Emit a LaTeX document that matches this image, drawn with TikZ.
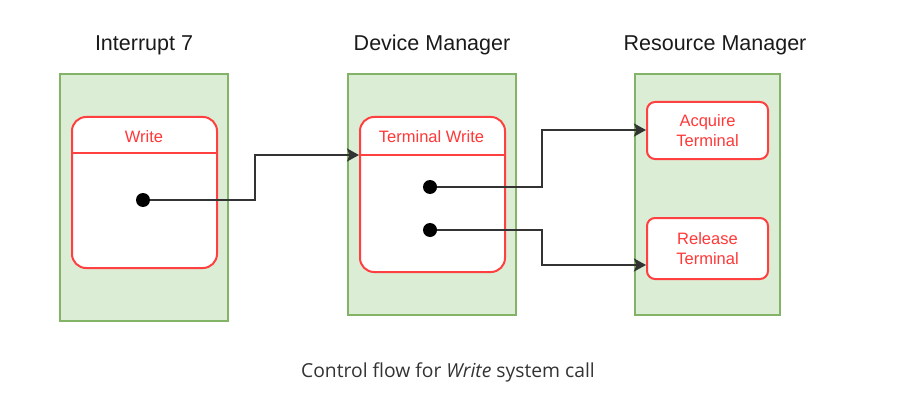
\documentclass[tikz,border=0pt]{standalone}
\usepackage{fontspec}
\setmainfont{Liberation Sans}
\newfontfamily\capfont{Open Sans}
\usetikzlibrary{arrows.meta,calc}
\pgfdeclarelayer{front}
\pgfsetlayers{main,front}
\definecolor{grfill}{HTML}{DCEDD5}
\definecolor{grline}{HTML}{82B366}
\definecolor{rdline}{HTML}{FF4040}
\definecolor{rdtext}{HTML}{FF3838}
\definecolor{lnk}{HTML}{333333}
\definecolor{ttl}{HTML}{1A1A1A}
\definecolor{captxt}{HTML}{333333}
\tikzset{
  lane/.style={draw=grline,fill=grfill,line width=2pt,minimum width=#1,inner sep=0pt},
  swim/.style={draw=rdline,fill=white,line width=2pt,rounded corners=14pt,inner sep=0pt},
  proc/.style={draw=rdline,fill=white,line width=2pt,rounded corners=8pt,inner sep=0pt,
     minimum width=121pt,minimum height=58pt,align=center,text=rdtext,font=\fontsize{16.5}{20}\selectfont},
  hdr/.style={text=rdtext,font=\fontsize{16.5}{20}\selectfont},
  title/.style={text=ttl,font=\fontsize{21.5}{26}\selectfont},
  dot/.style={circle,fill=black,inner sep=0pt,minimum size=14pt},
  flow/.style={draw=lnk,line width=2.2pt,-{Stealth[length=12pt,width=13pt,inset=2.5pt]}},
}
\begin{document}
\begin{tikzpicture}[x=1pt,y=-1pt]
\useasboundingbox (0,0) rectangle (899,401);
% lanes
\node[lane, minimum width=168pt, minimum height=247pt, anchor=north west] (l1) at (59,73) {};
\node[lane, minimum width=168pt, minimum height=241pt, anchor=north west] (l2) at (347,73) {};
\node[lane, minimum width=145pt, minimum height=241pt, anchor=north west] (l3) at (634,73) {};
% titles
\node[title] (t1) at (144,45) {Interrupt 7};
\node[title] (t2) at (432,45) {Device Manager};
\node[title] (t3) at (715,45) {Resource Manager};
% swimlane boxes
\node[swim, minimum width=145pt, minimum height=151pt, anchor=north west] (w) at (71,116) {};
\draw[rdline,line width=2pt] (71,153) coordinate (wl) -- (216,153) coordinate (wr);
\node[hdr] (wh) at (144,137) {Write};
\node[swim, minimum width=145pt, minimum height=155pt, anchor=north west] (tw) at (359,116) {};
\draw[rdline,line width=2pt] (359,155) coordinate (twl) -- (504,155) coordinate (twr);
\node[hdr] (twh) at (431.5,137) {Terminal Write};
% resource boxes
\node[proc, minimum height=57pt, anchor=north west] (acq) at (646,101) {Acquire\\Terminal};
\node[proc, minimum height=61pt, anchor=north west] (rel) at (646,217) {Release\\Terminal};
% dots
\begin{pgfonlayer}{front}
\node[dot] (d0) at (143,200) {};
\node[dot] (d1) at (430,187) {};
\node[dot] (d2) at (430,230) {};
\end{pgfonlayer}
% connectors
\draw[flow] (d0.center) -- (255,200) |- (twl);
\draw[flow] (d1.center) -- (542,187) |- ([yshift=0.5pt]acq.west);
\draw[flow] (d2.center) -- (542,230) |- ([yshift=-16.5pt]rel.west);
% caption
\node[text=captxt,font=\capfont\fontsize{19.3}{23}\selectfont] (cap) at (448,372) {Control flow for \textit{Write} system call};
\end{tikzpicture}
\end{document}
